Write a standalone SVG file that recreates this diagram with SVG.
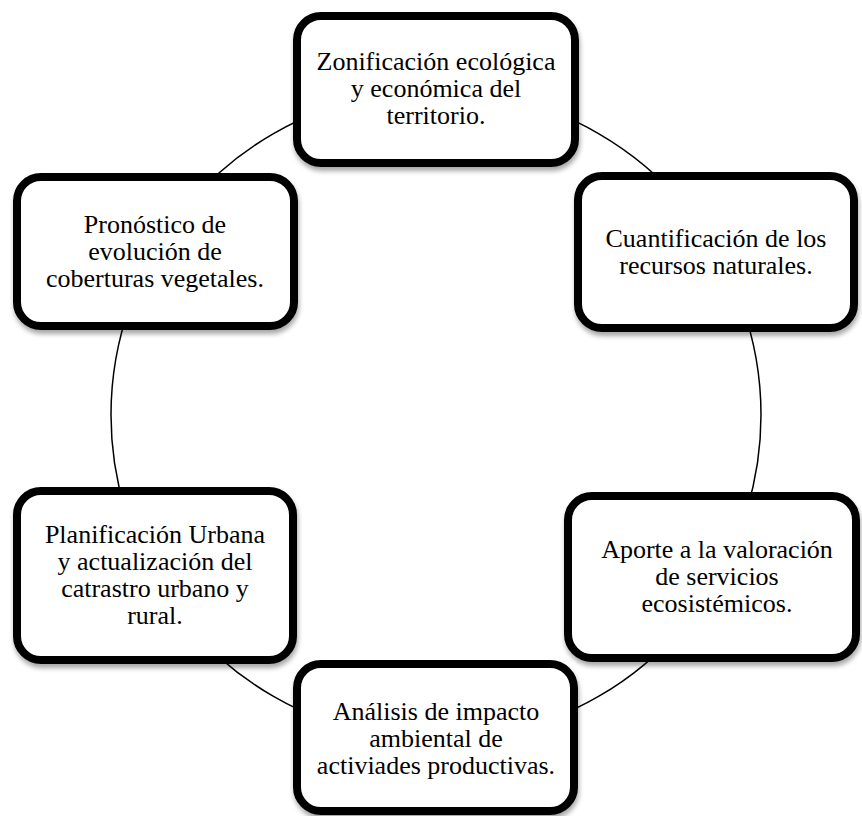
<svg xmlns="http://www.w3.org/2000/svg" width="862" height="816" viewBox="0 0 862 816">
  <defs>
    <filter id="shadow" x="-10%" y="-10%" width="125%" height="130%">
      <feGaussianBlur in="SourceAlpha" stdDeviation="2.5"/>
      <feOffset dx="1" dy="4" result="b"/>
      <feComponentTransfer><feFuncA type="linear" slope="0.35"/></feComponentTransfer>
      <feMerge><feMergeNode/><feMergeNode in="SourceGraphic"/></feMerge>
    </filter>
  </defs>
  <style>
    .box { fill: #ffffff; stroke: #000000; stroke-width: 8; filter: url(#shadow); }
    .arc { fill: none; stroke: #000000; stroke-width: 1.5; }
    .lbl { font-family: "Liberation Serif", "Times New Roman", serif; font-size: 26px; fill: #000000; text-anchor: middle; }
  </style>
  <rect width="862" height="816" fill="#ffffff"/>
  <g id="connectors">
    <path class="arc" d="M492.44,94.94 A325,325 0 0 1 684.96,206.09"/>
    <path class="arc" d="M741.40,303.84 A325,325 0 0 1 741.40,526.16"/>
    <path class="arc" d="M684.96,623.91 A325,325 0 0 1 492.44,735.06"/>
    <path class="arc" d="M379.56,735.06 A325,325 0 0 1 187.04,623.91"/>
    <path class="arc" d="M130.60,526.16 A325,325 0 0 1 130.60,303.84"/>
    <path class="arc" d="M187.04,206.09 A325,325 0 0 1 379.56,94.94"/>
  </g>
  <g id="node-zonificacion">
    <rect class="box" x="297" y="16" width="278" height="147" rx="24"/>
    <text class="lbl"><tspan x="436" y="70">Zonificación ecológica</tspan><tspan x="436" y="97">y económica del</tspan><tspan x="436" y="124">territorio.</tspan></text>
  </g>
  <g id="node-cuantificacion">
    <rect class="box" x="578" y="176" width="276" height="152" rx="24"/>
    <text class="lbl"><tspan x="716" y="247">Cuantificación de los</tspan><tspan x="716" y="274">recursos naturales.</tspan></text>
  </g>
  <g id="node-aporte">
    <rect class="box" x="568" y="496" width="288" height="162" rx="24"/>
    <text class="lbl"><tspan x="717" y="558">Aporte a la valoración</tspan><tspan x="717" y="585">de servicios</tspan><tspan x="717" y="612">ecosistémicos.</tspan></text>
  </g>
  <g id="node-analisis">
    <rect class="box" x="297" y="664" width="277" height="147" rx="24"/>
    <text class="lbl"><tspan x="436" y="720">Análisis de impacto</tspan><tspan x="436" y="747">ambiental de</tspan><tspan x="436" y="774">activiades productivas.</tspan></text>
  </g>
  <g id="node-planificacion">
    <rect class="box" x="17" y="491" width="276" height="169" rx="24"/>
    <text class="lbl"><tspan x="155" y="543">Planificación Urbana</tspan><tspan x="155" y="570">y actualización del</tspan><tspan x="155" y="597">catrastro urbano y</tspan><tspan x="155" y="624">rural.</tspan></text>
  </g>
  <g id="node-pronostico">
    <rect class="box" x="17" y="177" width="277" height="149" rx="24"/>
    <text class="lbl"><tspan x="155" y="233">Pronóstico de</tspan><tspan x="155" y="260">evolución de</tspan><tspan x="155" y="287">coberturas vegetales.</tspan></text>
  </g>
</svg>
